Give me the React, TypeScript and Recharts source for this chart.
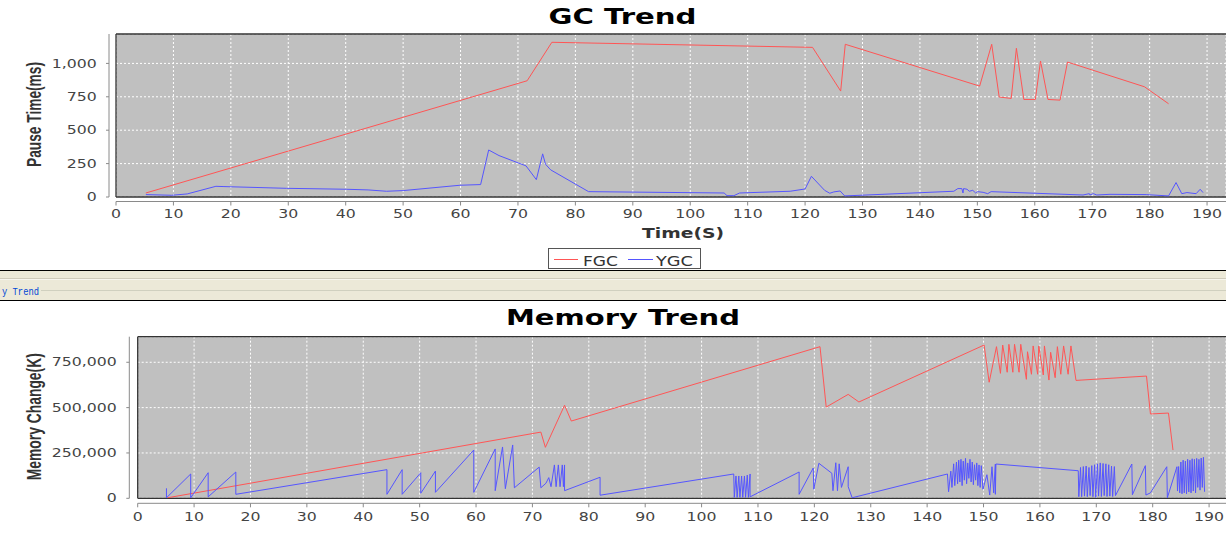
import React from "react";
import {
  LineChart,
  Line,
  XAxis,
  YAxis,
  CartesianGrid,
  ReferenceLine,
} from "recharts";

// GC Trend: pause time (ms) against elapsed time (s)
const gcFgcTime = [5.2, 71.6, 75.9, 121.3, 126.2, 127.0, 150.4, 152.5, 153.8, 155.9, 156.8, 158.1, 160.1, 161.0, 162.3, 164.4, 165.7, 179.1, 183.3];
const gcFgcPause = [30, 870, 1158, 1120, 793, 1143, 830, 1143, 748, 738, 1113, 730, 730, 1018, 730, 725, 1010, 825, 698];

const gcYgcTime = [5.2, 9.7, 12.4, 17.4, 18.8, 29.7, 40.1, 43.9, 47.1, 50.0, 59.9, 63.5, 64.9, 66.7, 71.4, 73.2, 74.3, 74.8, 75.7, 82.3, 105.9, 106.4, 107.6, 108.6, 117.4, 120.0, 121.1, 123.4, 124.3, 125.0, 126.1, 126.9, 145.9, 146.6, 147.3, 147.5, 147.6, 148.2, 148.6, 149.2, 149.7, 150.0, 151.0, 151.8, 152.4, 168.4, 169.5, 169.6, 170.2, 170.8, 173.1, 179.4, 183.3, 184.6, 185.6, 186.5, 188.1, 188.8, 189.3];
const gcYgcPause = [18, 13, 23, 80, 78, 65, 58, 53, 43, 48, 88, 93, 352, 310, 233, 130, 323, 245, 203, 40, 30, 10, 10, 30, 43, 60, 155, 50, 28, 38, 45, 8, 43, 63, 63, 30, 63, 58, 43, 50, 30, 40, 35, 25, 40, 15, 25, 15, 25, 15, 20, 18, 8, 108, 25, 33, 25, 58, 33];

// Memory Trend: memory change (K) against elapsed time (s)
const memFgcTime = [5.3, 71.5, 72.3, 75.7, 76.9, 121.0, 122.1, 126.0, 127.9, 150.1, 151.0, 152.3, 153.0, 153.4, 154.2, 154.5, 155.2, 155.5, 156.3, 156.6, 157.6, 157.8, 158.5, 158.8, 159.6, 159.8, 160.6, 160.8, 161.6, 161.9, 162.7, 163.1, 163.7, 164.2, 165.0, 165.5, 166.4, 178.9, 179.6, 182.8, 183.6];
const memFgcChange = [3000, 365000, 281000, 513000, 426000, 836000, 503000, 573000, 531000, 845000, 640000, 836000, 689000, 845000, 695000, 849000, 695000, 849000, 695000, 849000, 656000, 808000, 684000, 840000, 684000, 840000, 680000, 840000, 652000, 805000, 665000, 836000, 684000, 840000, 684000, 840000, 650000, 674000, 465000, 470000, 266000];

const memYgcTime = [
  5.1, 5.1, 9.4, 9.4, 12.5, 12.5, 17.4, 17.4, 44.2, 44.2, 46.9, 46.9, 50.2, 50.2, 52.8, 52.8, 59.6, 59.6, 63.4, 63.4,
  64.7, 65.2, 66.5, 66.8, 71.2, 71.5, 72.4, 72.9, 73.3, 73.9, 74.2, 74.6, 74.9, 75.3, 75.5, 75.7, 75.7, 82.0, 82.0,
  105.7, 105.8, 106.1, 106.3, 106.6, 106.8, 107.1, 107.3, 107.6, 107.8, 108.1, 108.3, 108.6, 108.6,
  117.3, 117.3, 119.8, 119.9, 120.8, 123.1, 123.3, 123.8, 124.1, 124.4, 124.8, 126.0, 126.0, 126.7,
  143.6, 143.8, 144.2, 144.4, 144.7, 144.9, 145.2, 145.4, 145.6, 145.8, 146.0, 146.2, 146.4, 146.6, 146.8, 147.0,
  147.2, 147.4, 147.6, 147.8, 148.0, 148.2, 148.4, 148.6, 148.8, 149.0, 149.2, 149.4, 149.6, 149.9, 150.6, 151.1,
  151.5, 151.8, 152.1, 152.1, 152.2, 166.8, 166.9, 167.2, 167.4, 167.7, 167.9, 168.2, 168.4, 168.7, 168.9, 169.2,
  169.4, 169.7, 169.9, 170.2, 170.4, 170.7, 170.9, 171.2, 171.4, 171.7, 171.9, 172.2, 172.4, 172.7, 172.9, 173.2,
  173.4, 176.3, 176.4, 178.7, 178.8, 179.6, 182.5, 182.6, 184.3, 184.4, 184.6, 184.8, 185.0, 185.2, 185.4, 185.6,
  185.8, 186.0, 186.2, 186.4, 186.6, 186.8, 187.0, 187.2, 187.4, 187.6, 187.8, 188.0, 188.2, 188.4, 188.6, 188.8,
  189.0, 189.2,
];
const memYgcChange = [
  55000, 3000, 134000, 3000, 141000, 8000, 145000, 22000, 158000, 22000, 158000, 22000, 141000, 28000, 150000, 33000, 266000, 33000, 272000, 42000,
  283000, 53000, 294000, 58000, 172000, 58000, 83000, 114000, 64000, 184000, 64000, 184000, 64000, 184000, 64000, 184000, 42000, 116000, 17000,
  134000, 5000, 123000, 5000, 123000, 5000, 123000, 5000, 123000, 5000, 128000, 5000, 134000, 8000,
  145000, 22000, 167000, 50000, 193000, 138000, 42000, 196000, 42000, 190000, 60000, 174000, 64000, 3000,
  134000, 36000, 150000, 60000, 190000, 70000, 200000, 80000, 210000, 90000, 215000, 70000, 205000, 100000, 220000, 80000,
  195000, 110000, 215000, 90000, 200000, 75000, 185000, 100000, 195000, 70000, 184000, 60000, 180000, 50000, 130000, 18000,
  174000, 30000, 189000, 22000, 189000, 152000, 9000, 170000, 9000, 175000, 12000, 178000, 9000, 170000, 15000, 180000,
  9000, 185000, 5000, 190000, 12000, 195000, 10000, 192000, 15000, 190000, 10000, 185000, 12000, 178000, 10000, 175000,
  15000, 189000, 20000, 180000, 18000, 30000, 174000, 3000, 174000, 40000, 175000, 30000, 200000, 25000, 210000, 30000,
  205000, 25000, 215000, 35000, 210000, 30000, 218000, 40000, 215000, 30000, 220000, 60000, 215000, 45000, 222000, 60000,
  226000, 36000,
];

const timeTicks = [0, 10, 20, 30, 40, 50, 60, 70, 80, 90, 100, 110, 120, 130, 140, 150, 160, 170, 180, 190];
const pauseTicks = [0, 250, 500, 750, 1000];
const memoryTicks = [0, 250000, 500000, 750000];

const FGC_COLOR = "#ff5555";
const YGC_COLOR = "#5555ff";
const AXIS_COLOR = "#8a8a8a";
const TICK_FONT = "DejaVu Sans";
const STRETCH = 1.38;

const toPoints = (ts: number[], vs: number[]) => ts.map((t, i) => ({ t, v: vs[i] }));

const makeXTick = (lineOffset: number, labelOffset: number) => (props: any) => {
  const { x, y, payload } = props;
  return (
    <g transform={`translate(${x},${y})`}>
      <line x1={0} x2={0} y1={lineOffset} y2={lineOffset + 4} stroke={AXIS_COLOR} />
      <g transform={`translate(0,${labelOffset}) scale(${STRETCH},1)`}>
        <text textAnchor="middle" fontFamily={TICK_FONT} fontSize={11.4} fill="#444">
          {payload.value}
        </text>
      </g>
    </g>
  );
};

const makeYTick = (lineOffset: number, labelEnd: number) => (props: any) => {
  const { x, y, payload } = props;
  return (
    <g transform={`translate(${x},${y})`}>
      <line x1={-lineOffset} x2={-lineOffset - 3} y1={0} y2={0} stroke={AXIS_COLOR} />
      <g transform={`translate(${-labelEnd},4.2) scale(${STRETCH},1)`}>
        <text textAnchor="end" fontFamily={TICK_FONT} fontSize={11.4} fill="#444">
          {Number(payload.value).toLocaleString("en-US")}
        </text>
      </g>
    </g>
  );
};

const TrendChart = ({
  fgc,
  ygc,
  yMax,
  xMax,
  yTicks,
  height,
  top,
  yAxisWidth,
  xAxisHeight,
  xLineOffset,
  xLabelOffset,
  yLineOffset,
  yLabelEnd,
}: any) => (
  <LineChart width={1230} height={height} margin={{ top, right: 4, bottom: 0, left: 0 }}>
    <CartesianGrid fill="#c0c0c0" stroke="#ffffff" strokeDasharray="2 2" />
    <XAxis
      type="number"
      dataKey="t"
      domain={[0, xMax]}
      ticks={timeTicks}
      interval={0}
      allowDataOverflow
      height={xAxisHeight}
      tickSize={0}
      tickMargin={0}
      tickLine={false}
      axisLine={{ stroke: AXIS_COLOR, transform: `translate(0,${xLineOffset})` }}
      tick={makeXTick(xLineOffset, xLabelOffset)}
    />
    <YAxis
      type="number"
      domain={[0, yMax]}
      ticks={yTicks}
      interval={0}
      allowDataOverflow
      width={yAxisWidth}
      tickSize={0}
      tickMargin={0}
      tickLine={false}
      axisLine={{ stroke: AXIS_COLOR, transform: `translate(${-yLineOffset},0)` }}
      tick={makeYTick(yLineOffset, yLabelEnd)}
    />
    <ReferenceLine y={yMax} stroke="#333" strokeWidth={1.3} />
    <ReferenceLine y={0} stroke="#333" strokeWidth={1.3} />
    <ReferenceLine x={0} stroke="#333" strokeWidth={1.3} />
    <Line data={fgc} dataKey="v" name="FGC" stroke={FGC_COLOR} strokeWidth={1} dot={false} activeDot={false} isAnimationActive={false} />
    <Line data={ygc} dataKey="v" name="YGC" stroke={YGC_COLOR} strokeWidth={1} dot={false} activeDot={false} isAnimationActive={false} />
  </LineChart>
);

const App = () => {
  const titleFont = "DejaVu Sans";
  return (
    <div style={{ position: "absolute", left: 0, top: 0, width: 1230, height: 535, background: "#fff", overflow: "hidden" }}>
      <div style={{ position: "absolute", left: 0, top: 0 }}>
        <TrendChart
          fgc={toPoints(gcFgcTime, gcFgcPause)}
          ygc={toPoints(gcYgcTime, gcYgcPause)}
          yMax={1220}
          xMax={193.3}
          yTicks={pauseTicks}
          height={245}
          top={34}
          yAxisWidth={116}
          xAxisHeight={48}
          xLineOffset={4.5}
          xLabelOffset={21.3}
          yLineOffset={7}
          yLabelEnd={19.3}
        />
      </div>

      {/* legend for the GC chart */}
      <div style={{ position: "absolute", left: 548, top: 248, width: 153, height: 21, boxSizing: "border-box", border: "1px solid #555", background: "#fff" }}>
        <svg width={151} height={19} style={{ display: "block" }}>
          <line x1={5} x2={29} y1={10.5} y2={10.5} stroke={FGC_COLOR} />
          <text x={34} y={17} fontFamily={TICK_FONT} fontSize={14} fill="#333" textLength={35} lengthAdjust="spacingAndGlyphs">FGC</text>
          <line x1={79} x2={104} y1={10.5} y2={10.5} stroke={YGC_COLOR} />
          <text x={107} y={17} fontFamily={TICK_FONT} fontSize={14} fill="#333" textLength={37} lengthAdjust="spacingAndGlyphs">YGC</text>
        </svg>
      </div>

      {/* panel separator with titled border */}
      <div style={{ position: "absolute", left: 0, top: 270, width: 1226, height: 31, background: "#ece9d8" }}>
        <div style={{ position: "absolute", left: 0, top: 0, width: "100%", height: 1, background: "#000" }} />
        <div style={{ position: "absolute", left: 0, top: 8, width: "100%", height: 1, background: "#d0ccbc" }} />
        <div style={{ position: "absolute", left: 0, top: 9, width: "100%", height: 1, background: "#f8f6ee" }} />
        <div style={{ position: "absolute", left: 41, top: 20, right: 0, height: 1, background: "#d0d0bf" }} />
        <div style={{ position: "absolute", left: 0, top: 30, width: "100%", height: 1, background: "#000" }} />
        <svg width={80} height={31} style={{ position: "absolute", left: 0, top: 0, overflow: "visible" }}>
          <text x={2} y={25} fontFamily="Liberation Mono" fontSize={11.5} fill="#0046d5" textLength={37} lengthAdjust="spacingAndGlyphs">y Trend</text>
        </svg>
      </div>

      <div style={{ position: "absolute", left: 0, top: 301 }}>
        <TrendChart
          fgc={toPoints(memFgcTime, memFgcChange)}
          ygc={toPoints(memYgcTime, memYgcChange)}
          yMax={891000}
          xMax={193.0}
          yTicks={memoryTicks}
          height={234}
          top={35.7}
          yAxisWidth={137.7}
          xAxisHeight={36.7}
          xLineOffset={5}
          xLabelOffset={22.7}
          yLineOffset={8.4}
          yLabelEnd={21}
        />
      </div>

      {/* chart and axis titles */}
      <svg width={1230} height={535} style={{ position: "absolute", left: 0, top: 0, pointerEvents: "none" }}>
        <text x={622.5} y={24} textAnchor="middle" fontFamily={titleFont} fontWeight="bold" fontSize={21.5} fill="#000" textLength={148} lengthAdjust="spacingAndGlyphs">GC Trend</text>
        <text x={683} y={237.5} textAnchor="middle" fontFamily={titleFont} fontWeight="bold" fontSize={13.3} fill="#333" textLength={82} lengthAdjust="spacingAndGlyphs">Time(S)</text>
        <text transform="translate(40.5,114.5) scale(1.38,1) rotate(-90)" textAnchor="middle" fontFamily="Liberation Sans" fontWeight="bold" fontSize={14} fill="#333" textLength={105} lengthAdjust="spacingAndGlyphs">Pause Time(ms)</text>
        <text x={623} y={325} textAnchor="middle" fontFamily={titleFont} fontWeight="bold" fontSize={21.5} fill="#000" textLength={234} lengthAdjust="spacingAndGlyphs">Memory Trend</text>
        <text transform="translate(40.5,416.7) scale(1.38,1) rotate(-90)" textAnchor="middle" fontFamily="Liberation Sans" fontWeight="bold" fontSize={14} fill="#333" textLength={127} lengthAdjust="spacingAndGlyphs">Memory Change(K)</text>
      </svg>
    </div>
  );
};

export default App;
